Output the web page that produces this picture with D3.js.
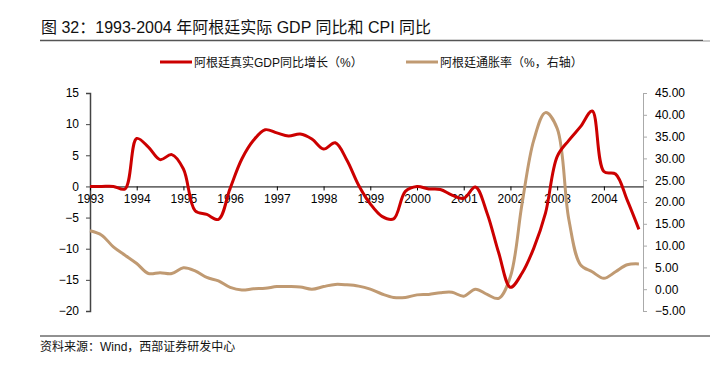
<!DOCTYPE html>
<html lang="zh">
<head>
<meta charset="UTF-8">
<script src="https://cdn.jsdelivr.net/npm/d3@7"></script>
<title>阿根廷实际GDP同比和CPI同比</title>
<style>
    body { margin: 0; background: #fff; }
    svg { display: block; font-family: "Liberation Sans", Arial, "Noto Sans CJK SC", sans-serif; }
</style>
</head>
<body>
<div id="chart"></div>
<script>
    // year labels on the x axis (one label every 4 quarters)
    const years = ["1993", "1994", "1995", "1996", "1997", "1998", "1999", "2000", "2001", "2002", "2003", "2004"];

    // quarterly real GDP growth, % (left axis), 1993Q1 - 2004Q4
    const gdp = [0, 0, 0, -0.4, 7.7, 6.3, 4.3, 5.1, 2.8, -3.9, -4.5, -5.3,
                 -0.3, 4.4, 7.4, 9.1, 8.6, 8.1, 8.4, 7.6, 6.0, 7.0, 4.2, 0.2,
                 -2.8, -4.8, -5.2, -0.8, 0, -0.4, -0.5, -1.4, -1.9, -0.1, -4.3, -10.7,
                 -16.2, -13.9, -9.9, -4.3, 4.8, 7.4, 9.6, 12.1, 2.4, 2.0, -2.2, -6.9];

    // quarterly inflation, % (right axis)
    const cpi = [13.4, 12.4, 9.7, 7.8, 5.9, 3.6, 3.8, 3.6, 4.9, 4.2, 2.7, 1.9,
                 0.4, -0.2, 0.1, 0.2, 0.6, 0.6, 0.5, 0.0, 0.6, 1.1, 1.0, 0.7,
                 0.0, -1.1, -1.9, -1.9, -1.3, -1.2, -0.8, -0.7, -1.6, 0.0, -1.2, -2.1,
                 2.9, 19.7, 34.2, 40.5, 36.9, 16.0, 5.6, 4.0, 2.5, 4.0, 5.6, 5.8];

    const leftTicks = [15, 10, 5, 0, -5, -10, -15, -20];
    const rightTicks = [45, 40, 35, 30, 25, 20, 15, 10, 5, 0, -5];

    const width = 718, height = 372;
    const plot = { left: 90, right: 643, top: 93, bottom: 311 };

    const svg = d3.select("#chart").append("svg")
        .attr("width", width)
        .attr("height", height);

    // title + rule
    svg.append("text")
        .attr("x", 41).attr("y", 33)
        .attr("font-size", 16).attr("fill", "#111")
        .text("图 32：1993-2004 年阿根廷实际 GDP 同比和 CPI 同比");
    svg.append("line")
        .attr("x1", 40).attr("x2", 703).attr("y1", 40.5).attr("y2", 40.5)
        .attr("stroke", "#555").attr("stroke-width", 1.5);
    svg.append("line")
        .attr("x1", 703).attr("x2", 710).attr("y1", 41).attr("y2", 41)
        .attr("stroke", "#bbb").attr("stroke-width", 1.5);

    // scales
    const x = d3.scaleLinear().domain([0, 47.35]).range([plot.left, plot.right]);
    const yL = d3.scaleLinear().domain([-20, 15]).range([plot.bottom, plot.top]);
    const yR = d3.scaleLinear().domain([-5, 45]).range([plot.bottom, plot.top]);

    // left axis
    const leftAxis = svg.append("g")
        .attr("transform", `translate(${plot.left},0)`)
        .call(d3.axisLeft(yL).tickValues(leftTicks).tickSize(4).tickPadding(7).tickFormat(d3.format("d")));
    leftAxis.select(".domain").attr("stroke", "#444").attr("stroke-width", 1.5);
    leftAxis.selectAll(".tick line").attr("stroke", "#444");
    leftAxis.selectAll("text").attr("font-size", 12).attr("fill", "#000");

    // right axis
    const rightAxis = svg.append("g")
        .attr("transform", `translate(${plot.right},0)`)
        .call(d3.axisRight(yR).tickValues(rightTicks).tickSize(4).tickPadding(8).tickFormat(d3.format(".2f")));
    rightAxis.select(".domain").attr("stroke", "#aaa").attr("stroke-width", 1);
    rightAxis.selectAll(".tick line").attr("stroke", "#aaa");
    rightAxis.selectAll("text").attr("font-size", 12).attr("fill", "#000");

    // zero line with year ticks
    const xAxis = svg.append("g")
        .attr("transform", `translate(0,${yL(0)})`)
        .call(d3.axisBottom(x).tickValues(years.map((d, i) => i * 4))
            .tickFormat((d, i) => years[i]).tickSize(4).tickPadding(4).tickSizeOuter(0));
    xAxis.select(".domain").attr("stroke", "#000").attr("stroke-width", 1);
    xAxis.selectAll(".tick line").attr("stroke", "#000");
    xAxis.selectAll("text").attr("font-size", 12).attr("fill", "#000");

    // lines
    const lineL = d3.line().x((d, i) => x(i)).y(d => yL(d)).curve(d3.curveCatmullRom.alpha(0.5));
    const lineR = d3.line().x((d, i) => x(i)).y(d => yR(d)).curve(d3.curveCatmullRom.alpha(0.5));

    svg.append("path").datum(cpi)
        .attr("d", lineR).attr("fill", "none")
        .attr("stroke", "#c09a72").attr("stroke-width", 3);
    svg.append("path").datum(gdp)
        .attr("d", lineL).attr("fill", "none")
        .attr("stroke", "#cc0000").attr("stroke-width", 3);

    // legend
    const legend = [
        { label: "阿根廷真实GDP同比增长（%）", color: "#cc0000", x: 160 },
        { label: "阿根廷通胀率（%，右轴）", color: "#c09a72", x: 406 }
    ];
    legend.forEach(l => {
        svg.append("line")
            .attr("x1", l.x).attr("x2", l.x + 32).attr("y1", 62).attr("y2", 62)
            .attr("stroke", l.color).attr("stroke-width", 3);
        svg.append("text")
            .attr("x", l.x + 34).attr("y", 66.5)
            .attr("font-size", 12).attr("fill", "#111")
            .text(l.label);
    });

    // source note
    svg.append("line")
        .attr("x1", 40).attr("x2", 710).attr("y1", 336).attr("y2", 336)
        .attr("stroke", "#222").attr("stroke-width", 1);
    svg.append("text")
        .attr("x", 40).attr("y", 351)
        .attr("font-size", 12).attr("fill", "#111")
        .text("资料来源：Wind，西部证券研发中心");
</script>
</body>
</html>
